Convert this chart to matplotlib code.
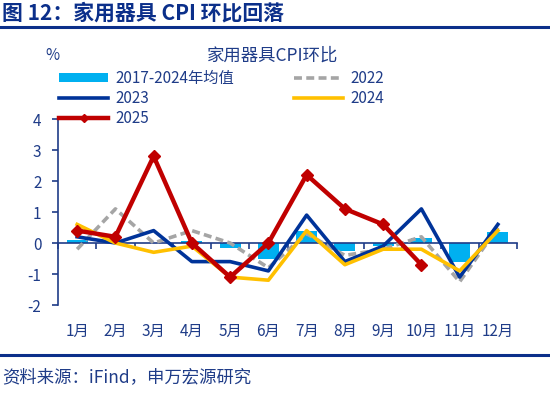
import matplotlib
matplotlib.use("Agg")
import matplotlib.pyplot as plt
import numpy as np
from matplotlib.patches import Patch
from matplotlib.lines import Line2D

plt.rcParams['font.family'] = ['Noto Sans CJK SC', 'DejaVu Sans']

months = ['1月', '2月', '3月', '4月', '5月', '6月', '7月', '8月', '9月', '10月', '11月', '12月']
avg_1724 = [0.1, 0.0, 0.0, 0.05, -0.15, -0.5, 0.4, -0.25, -0.1, 0.15, -0.6, 0.35]
y2022 = [-0.2, 1.1, 0.0, 0.4, 0.0, -0.8, 0.3, -0.4, -0.2, 0.2, -1.25, 0.5]
y2023 = [0.2, 0.0, 0.4, -0.6, -0.6, -0.9, 0.9, -0.6, -0.1, 1.1, -1.1, 0.6]
y2024 = [0.6, 0.0, -0.3, -0.1, -1.1, -1.2, 0.4, -0.7, -0.2, -0.2, -0.9, 0.4]
y2025 = [0.4, 0.2, 2.8, 0.0, -1.1, 0.0, 2.2, 1.1, 0.6, -0.7]
yticks = [-2, -1, 0, 1, 2, 3, 4]

DARK = '#0B2F8A'
TXT = '#1F3C88'
C_BAR = '#00B0F0'
C22 = '#A5A5A5'
C23 = '#003399'
C24 = '#FFC000'
C25 = '#C00000'
DASH = (2.2, 1.2)

fig = plt.figure(figsize=(5.5, 3.93), dpi=100)
ax = fig.add_axes([0.1055, 0.2239, 0.8345, 0.4733])

x = np.arange(len(months))
x25 = np.arange(len(y2025))
ax.bar(x, avg_1724, width=0.55, color=C_BAR, zorder=2)
ax.plot(x, y2022, color=C22, lw=2.6, dashes=DASH, zorder=3)
ax.plot(x, y2023, color=C23, lw=2.6, zorder=4)
ax.plot(x, y2024, color=C24, lw=2.6, zorder=4)
ax.plot(x25, y2025, color=C25, lw=3.2, marker='D', ms=6, zorder=5)

ax.set_xlim(-0.5, len(months) - 0.5)
ax.set_ylim(min(yticks), max(yticks))
ax.set_yticks(yticks)
ax.set_yticklabels([str(t) for t in yticks], fontsize=11, color=TXT)
ax.tick_params(axis='y', direction='out', length=4, width=1.2, color=TXT, pad=8)

for s in ['top', 'right']:
    ax.spines[s].set_visible(False)
ax.spines['left'].set_color(TXT)
ax.spines['left'].set_linewidth(1.2)
ax.spines['bottom'].set_position(('data', 0))
ax.spines['bottom'].set_color(TXT)
ax.spines['bottom'].set_linewidth(1.2)
ax.set_xticks(np.arange(len(months) + 1) - 0.5)
ax.set_xticklabels([])
ax.tick_params(axis='x', direction='out', length=4, width=1.2, color=TXT)
for i, m in enumerate(months):
    ax.text(i, -0.14, m, transform=ax.get_xaxis_transform(), ha='center', va='center',
            fontsize=11, color=TXT)

# legend
handles = [Patch(facecolor=C_BAR, edgecolor='none'),
           Line2D([], [], color=C22, lw=2.6, dashes=DASH),
           Line2D([], [], color=C23, lw=2.6),
           Line2D([], [], color=C24, lw=2.6),
           Line2D([], [], color=C25, lw=3.2, marker='D', ms=4)]
labels = ['2017-2024年均值', '2022', '2023', '2024', '2025']
order = [0, 2, 4, 1, 3]
leg = fig.legend([handles[i] for i in order], [labels[i] for i in order], ncol=2,
                 loc='upper left', bbox_to_anchor=(0.108, 0.822), frameon=False,
                 fontsize=11, handlelength=3.2, handleheight=0.6, labelspacing=0.2,
                 columnspacing=3.9, handletextpad=0.5, borderaxespad=0, borderpad=0)
for t in leg.get_texts():
    t.set_color(TXT)

fig.text(0.495, 0.858, '家用器具CPI环比', ha='center', va='center', fontsize=12.5, color=TXT)
fig.text(0.095, 0.86, '%', ha='center', va='center', fontsize=11, color=TXT)

# header / footer
fig.text(0.004, 0.967, '图 12：家用器具 CPI 环比回落', ha='left', va='center', fontsize=15,
         fontweight='bold', color=DARK)
fig.add_artist(Line2D([0.0, 1.0], [0.931, 0.931], transform=fig.transFigure, color=DARK, lw=2.2))
fig.add_artist(Line2D([0.0, 1.0], [0.097, 0.097], transform=fig.transFigure, color=DARK, lw=2.2))
fig.text(0.004, 0.04, '资料来源：iFind，申万宏源研究', ha='left', va='center', fontsize=12.5,
         color=TXT)

fig.savefig('out.png', dpi=100)
